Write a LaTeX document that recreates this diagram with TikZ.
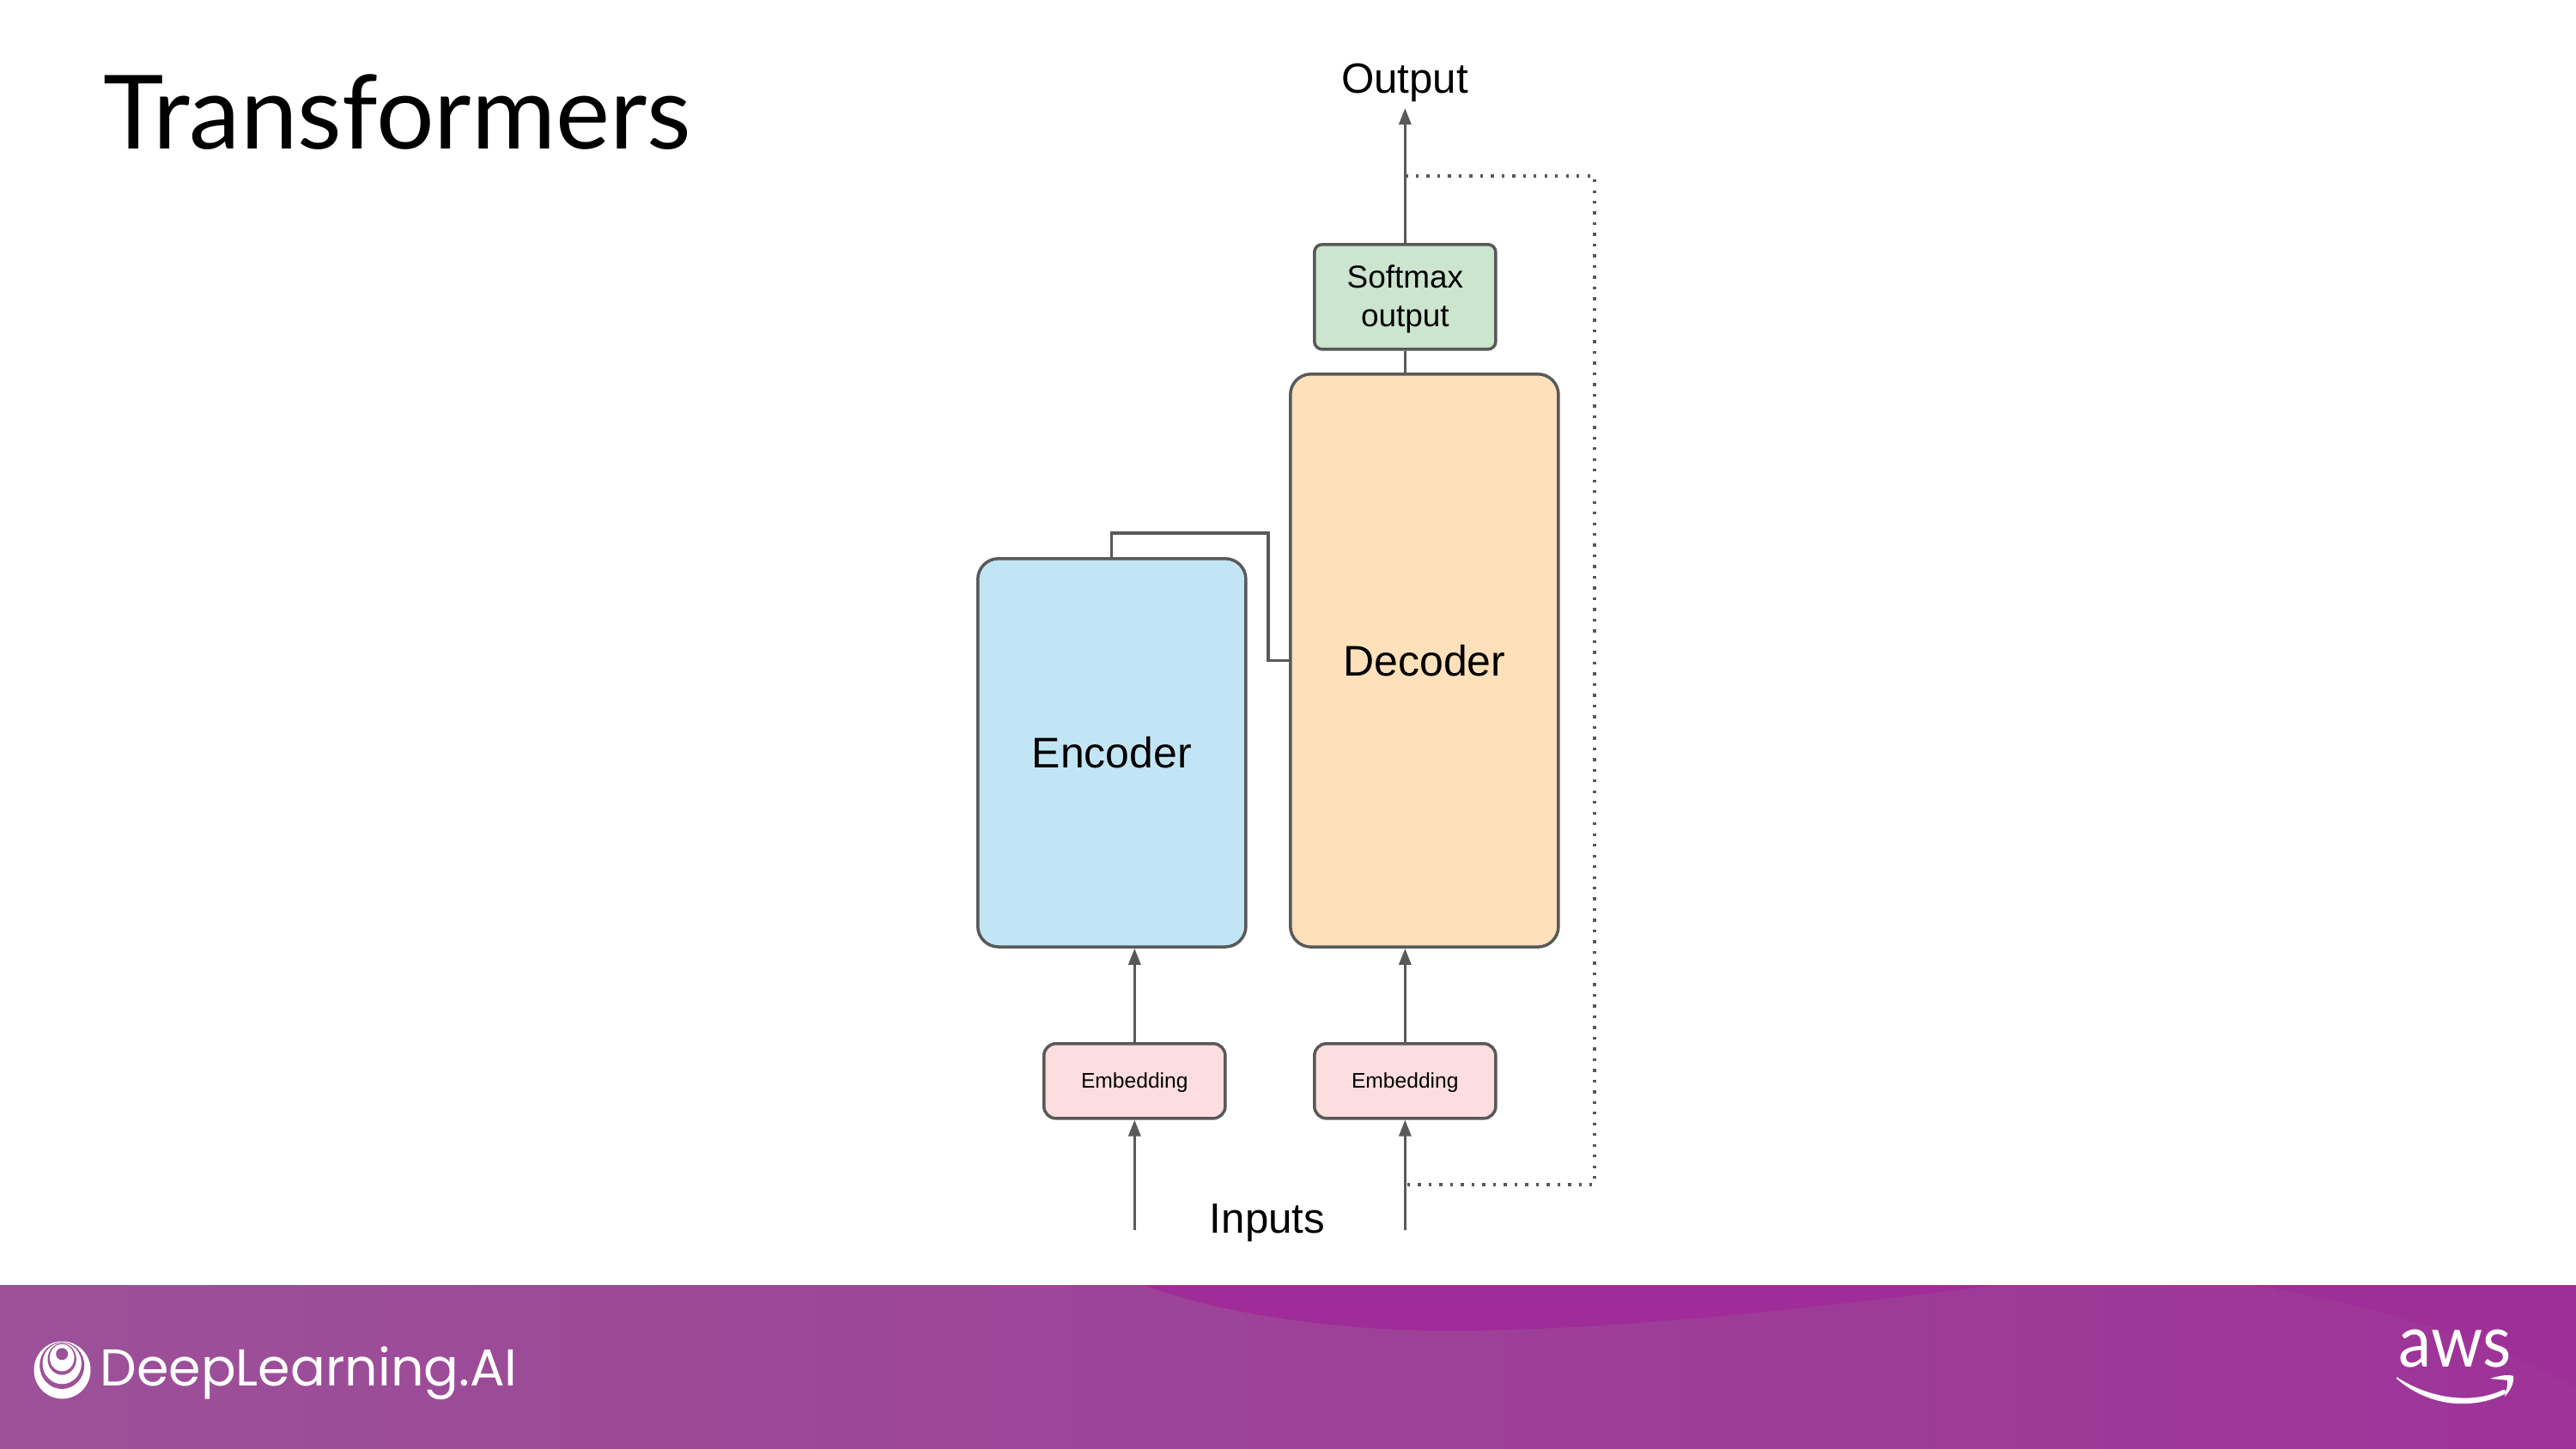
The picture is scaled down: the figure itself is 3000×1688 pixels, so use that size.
\documentclass[tikz,border=0pt]{standalone}
\usepackage{fontspec}
\setmainfont{Liberation Sans}
\newfontfamily\titlefont{Lato}
\newfontfamily\logofont{Poppins}
\usetikzlibrary{arrows.meta,calc}
\definecolor{linegray}{HTML}{595959}
\definecolor{encfill}{HTML}{C2E5F5}
\definecolor{decfill}{HTML}{FEE0BB}
\definecolor{softfill}{HTML}{CCE5CE}
\definecolor{embfill}{HTML}{FCDDE0}
\definecolor{bandleft}{HTML}{9C5198}
\definecolor{bandright}{HTML}{9E3398}
\definecolor{banddark}{HTML}{9F2C98}
\definecolor{bandedge}{HTML}{9E2F98}
\tikzset{
  px/.style={x=0.01cm,y=-0.01cm},
  bigblock/.style={draw=linegray,line width=1pt,rounded corners=0.24cm,inner sep=0pt,anchor=north west,align=center,text=black,font=\fontsize{14.2}{17}\selectfont},
  softblock/.style={draw=linegray,line width=1pt,rounded corners=0.09cm,inner sep=0pt,anchor=north west,align=center,text=black,font=\fontsize{10.5}{12.8}\selectfont},
  embblock/.style={draw=linegray,line width=1pt,rounded corners=0.14cm,inner sep=0pt,anchor=north west,align=center,text=black,font=\fontsize{7}{8.5}\selectfont},
  wire/.style={draw=linegray,line width=0.9pt},
  arrowwire/.style={wire,-{Triangle[length=0.19cm,width=0.14cm,fill=linegray]}},
  dotwire/.style={draw=linegray,line width=0.95pt,dash pattern=on 0.95pt off 2.6pt},
  label/.style={text=black,inner sep=0pt}
}
\begin{document}
\begin{tikzpicture}[px]
\useasboundingbox (0,0) rectangle (3000,1688);
\fill[white] (0,0) rectangle (3000,1688);
% footer
\shade[left color=bandleft,right color=bandright] (0,1497) rectangle (3000,1688);
\fill[banddark] (1332,1497) .. controls (1420,1530) and (1560,1552) .. (1705,1550) .. controls (1900,1548) and (2100,1525) .. (2325,1497) -- cycle;
\fill[bandedge] (2625,1497) .. controls (2760,1520) and (2900,1560) .. (3000,1617) -- (3000,1497) -- cycle;
% title
\node[label,anchor=base west,font=\titlefont\fontsize{33.95}{40}\selectfont] (title) at (120,174) {Transformers};
% blocks
\node[bigblock,fill=encfill,minimum width=3.12cm,minimum height=4.52cm] (enc) at (1137,649) {Encoder};
\node[bigblock,fill=decfill,minimum width=3.12cm,minimum height=6.67cm] (dec) at (1501,434) {Decoder};
\node[softblock,fill=softfill,minimum width=2.11cm,minimum height=1.22cm] (soft) at (1529,283) {\rule{0pt}{0.33cm}Softmax\\output};
\node[embblock,fill=embfill,minimum width=2.11cm,minimum height=0.87cm,text height=6.2pt] (emb1) at (1214,1214) {Embedding};
\node[embblock,fill=embfill,minimum width=2.11cm,minimum height=0.87cm,text height=6.2pt] (emb2) at (1529,1214) {Embedding};
% labels
\node[label,font=\fontsize{14}{17}\selectfont] (out) at (1636,96) {Output};
\node[label,anchor=base,font=\fontsize{14}{17}\selectfont] (inp) at (1476,1436) {Inputs};
% coordinates
\coordinate (outtip) at (1636,126);
\coordinate (in1) at (1320,1433);
\coordinate (in2) at (1635,1433);
\coordinate (tap1) at (1636,205);
\coordinate (tap2) at (1636,1380);
\coordinate (bend) at (1477,768);
\coordinate (dotNE) at (1857,205);
\coordinate (dotSE) at (1857,1380);
% connectors
\draw[arrowwire] (soft.north) -- (soft.north |- outtip);
\draw[wire] (soft.south) -- (soft.south |- dec.north);
\draw[wire] (enc.north) -- ++(0,-28) -| (bend |- dec.west) -- (dec.west);
\draw[arrowwire] (emb1.north) -- (emb1.north |- enc.south);
\draw[arrowwire] (emb2.north) -- (emb2.north |- dec.south);
\draw[arrowwire] (emb1.south |- in1) -- (emb1.south);
\draw[arrowwire] (emb2.south |- in2) -- (emb2.south);
\draw[dotwire] (soft.north |- tap1) -- (dotNE) -- (dotSE) -- (soft.north |- tap2);
% logo
\begin{scope}[xshift=0.015cm]
\fill[white] (71,1596) ellipse [x radius=33,y radius=33.5];
\fill[bandleft] (70.7,1590.7) ellipse [x radius=26,y radius=27.3];
\fill[white] (70.7,1588.3) ellipse [x radius=22.7,y radius=24];
\fill[bandleft] (70.7,1583.3) ellipse [x radius=16.7,y radius=18.3];
\fill[white] (70.7,1581.7) ellipse [x radius=14.3,y radius=15.7];
\fill[bandleft] (70.7,1577.3) ellipse [x radius=7,y radius=7];
\end{scope}
\node[label,anchor=base west,text=white,font=\logofont\fontsize{17.15}{20}\selectfont] (logo) at (116,1614) {DeepLearning.AI};
% aws
\node[label,anchor=base,text=white,font=\titlefont\fontsize{24}{30}\selectfont,xscale=0.91] (aws) at (2859,1592) {aws};
\fill[white] (2791,1604) .. controls (2830,1630) and (2880,1636) .. (2915,1619) .. controls (2918,1618) and (2920,1622) .. (2917,1624) .. controls (2880,1642) and (2830,1640) .. (2791,1606) -- cycle;
\fill[white] (2900,1606) .. controls (2912,1602) and (2922,1601) .. (2927,1603) .. controls (2928,1612) and (2923,1620) .. (2917,1627) .. controls (2919,1618) and (2921,1612) .. (2920,1608) .. controls (2915,1607) and (2908,1607) .. (2900,1606) -- cycle;
\end{tikzpicture}
\end{document}
